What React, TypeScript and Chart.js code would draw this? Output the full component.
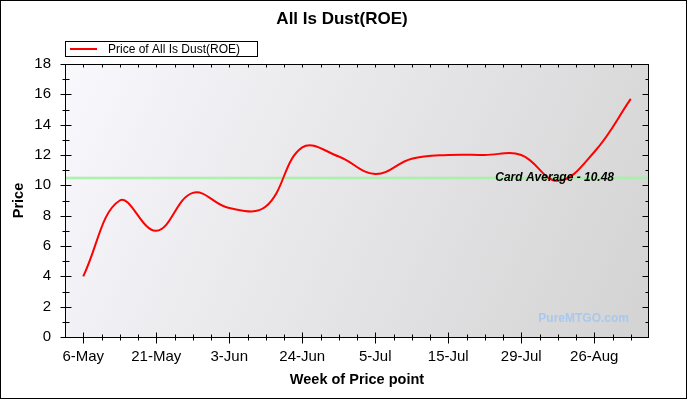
import React, { useEffect, useRef } from "react";
import { Chart, registerables } from "chart.js";

Chart.register(...registerables);

const chartTitle = "All Is Dust(ROE)";
const seriesName = "Price of All Is Dust(ROE)";
const xAxisTitle = "Week of Price point";
const yAxisTitle = "Price";
const weekLabels = ["6-May", "21-May", "3-Jun", "24-Jun", "5-Jul", "15-Jul", "29-Jul", "26-Aug"];
const prices = [4.0, 9.0, 7.0, 9.5, 8.5, 8.6, 12.5, 11.9, 10.75, 11.75, 12.0, 12.0, 12.0, 10.3, 12.2, 15.7];
const cardAverage = 10.48;
const watermark = "PureMTGO.com";

const FONT = "'Liberation Sans', Arial, sans-serif";

const decor = {
  id: "decor",
  beforeDraw(chart: any) {
    const { ctx, chartArea: a, width, height } = chart;
    ctx.save();
    ctx.fillStyle = "#ffffff";
    ctx.fillRect(0, 0, width, height);
    const g = ctx.createLinearGradient(a.left, a.top, a.right, a.bottom);
    g.addColorStop(0, "#f8f8fd");
    g.addColorStop(1, "#d3d3d3");
    ctx.fillStyle = g;
    ctx.fillRect(a.left, a.top, a.right - a.left, a.bottom - a.top);
    ctx.restore();
  },
  beforeDatasetsDraw(chart: any) {
    const { ctx, chartArea: a, scales } = chart;
    const y = scales.y.getPixelForValue(cardAverage);
    ctx.save();
    ctx.strokeStyle = "rgba(170,240,170,0.6)";
    ctx.lineWidth = 3;
    ctx.beginPath();
    ctx.moveTo(a.left, y);
    ctx.lineTo(a.right, y);
    ctx.stroke();
    ctx.strokeStyle = "#a6f0a6";
    ctx.lineWidth = 1.5;
    ctx.beginPath();
    ctx.moveTo(a.left, y);
    ctx.lineTo(a.right, y);
    ctx.stroke();
    ctx.restore();
  },
  afterDraw(chart: any) {
    const { ctx, chartArea: a, scales, width, height } = chart;
    const L = Math.round(a.left) + 0.5;
    const R = Math.round(a.right) - 0.5;
    const T = Math.round(a.top) + 0.5;
    const B = Math.round(a.bottom) + 0.5;
    ctx.save();
    // average label
    const ay = scales.y.getPixelForValue(cardAverage);
    ctx.fillStyle = "#000";
    ctx.font = `italic bold 12px ${FONT}`;
    ctx.textAlign = "right";
    ctx.textBaseline = "alphabetic";
    ctx.fillText(`Card Average - ${cardAverage.toFixed(2)}`, a.right - 35, ay + 3);
    // watermark
    ctx.fillStyle = "#a9c8ee";
    ctx.font = `bold 12px ${FONT}`;
    ctx.textBaseline = "middle";
    ctx.fillText(watermark, a.right - 20, a.bottom - 18);

    // frame
    ctx.strokeStyle = "#000";
    ctx.lineWidth = 1;
    ctx.strokeRect(L, T, R - L, B - T);
    ctx.beginPath();
    const xs = scales.x;
    for (let v = 0; v <= (prices.length - 1) * 2; v++) {
      const px = Math.round(xs.getPixelForValue(v)) + 0.5;
      const major = v % 4 === 0;
      ctx.moveTo(px, major ? B - 5 : B - 3);
      ctx.lineTo(px, major ? B + 6 : B + 3);
      ctx.moveTo(px, T);
      ctx.lineTo(px, T + 3);
    }
    const ys = scales.y;
    for (let v = 0; v <= 18; v++) {
      const py = Math.round(ys.getPixelForValue(v)) + 0.5;
      const major = v % 2 === 0;
      ctx.moveTo(major ? L - 5 : L - 3, py);
      ctx.lineTo(major ? L + 6 : L + 4, py);
      ctx.moveTo(major ? R - 6 : R - 3, py);
      ctx.lineTo(R, py);
    }
    ctx.stroke();

    // title
    ctx.fillStyle = "#000";
    ctx.font = `bold 17px ${FONT}`;
    ctx.textAlign = "center";
    ctx.textBaseline = "middle";
    ctx.fillText(chartTitle, 342, 19.5);

    // legend
    ctx.strokeRect(65.5, 41.5, 192, 15);
    ctx.strokeStyle = "#ff0000";
    ctx.lineWidth = 2;
    ctx.beginPath();
    ctx.moveTo(70, 49);
    ctx.lineTo(97, 49);
    ctx.stroke();
    ctx.fillStyle = "#000";
    ctx.font = `12px ${FONT}`;
    ctx.textAlign = "left";
    ctx.fillText(seriesName, 108, 49.5);

    // axis titles
    ctx.font = `bold 14.5px ${FONT}`;
    ctx.textAlign = "center";
    ctx.fillText(xAxisTitle, (a.left + a.right) / 2, 380);
    ctx.translate(19, (a.top + a.bottom) / 2);
    ctx.rotate(-Math.PI / 2);
    ctx.fillText(yAxisTitle, 0, 0);
    ctx.setTransform(1, 0, 0, 1, 0, 0);

    // outer border
    ctx.strokeStyle = "#000";
    ctx.lineWidth = 1;
    ctx.strokeRect(0.5, 0.5, width - 1, height - 1);
    ctx.restore();
  },
};

export default function App() {
  const ref = useRef<HTMLCanvasElement | null>(null);
  useEffect(() => {
    const canvas = ref.current;
    if (!canvas) return;
    const chart = new Chart(canvas, {
      type: "line",
      data: {
        datasets: [
          {
            label: seriesName,
            data: prices.map((p, i) => ({ x: i * 2, y: p })),
            borderColor: "#ff0000",
            borderWidth: 2,
            pointRadius: 0,
            tension: 0.4,
            fill: false,
          },
        ],
      },
      options: {
        animation: false,
        responsive: false,
        devicePixelRatio: 1,
        layout: { padding: { top: 64, right: 38, left: 0, bottom: 0 } },
        plugins: { legend: { display: false }, title: { display: false }, tooltip: { enabled: false } },
        scales: {
          x: {
            type: "linear",
            min: -1,
            max: (prices.length - 1) * 2 + 1,
            grid: { display: false, drawTicks: false },
            border: { display: false },
            afterBuildTicks: (s: any) => {
              s.ticks = weekLabels.map((_, j) => ({ value: j * 4 }));
            },
            afterFit: (s: any) => {
              s.height = 62;
            },
            ticks: {
              autoSkip: false,
              maxRotation: 0,
              padding: 11,
              color: "#000",
              font: { family: FONT, size: 15 },
              callback: (v: any) => weekLabels[Math.round(Number(v) / 4)] ?? "",
            },
          },
          y: {
            min: 0,
            max: 18,
            grid: { display: false, drawTicks: false },
            border: { display: false },
            afterFit: (s: any) => {
              s.width = 65;
            },
            ticks: {
              stepSize: 2,
              padding: 14,
              color: "#000",
              font: { family: FONT, size: 15 },
            },
          },
        },
      },
      plugins: [decor],
    });
    return () => chart.destroy();
  }, []);
  return (
    <div style={{ position: "fixed", left: 0, top: 0, width: 687, height: 399 }}>
      <canvas ref={ref} width={687} height={399} style={{ display: "block", width: 687, height: 399 }} />
    </div>
  );
}
